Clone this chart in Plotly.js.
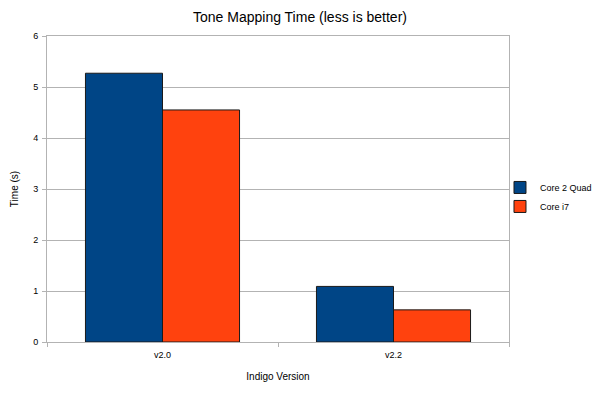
<!DOCTYPE html>
<html>
<head>
<meta charset="utf-8">
<script src="https://cdn.plot.ly/plotly-3.0.1.min.js"></script>
<style>html,body{margin:0;padding:0;background:#fff;}#chart{width:600px;height:397px;}</style>
</head>
<body>
<div id="chart"></div>
<script>
const versions = ["v2.0", "v2.2"];
const core2Quad = [5.27, 1.09];
const coreI7 = [4.55, 0.63];
const seriesNames = ["Core 2 Quad", "Core i7"];
const yTicks = [0, 1, 2, 3, 4, 5, 6];

const font = "Liberation Sans, Arial, sans-serif";
const traces = [
  {type: "bar", name: seriesNames[0], x: versions, y: core2Quad,
   marker: {color: "#004586", line: {color: "#1a1a1a", width: 1}}},
  {type: "bar", name: seriesNames[1], x: versions, y: coreI7,
   marker: {color: "#ff420e", line: {color: "#1a1a1a", width: 1}}}
];
const layout = {
  width: 600, height: 397,
  margin: {l: 47, r: 91, t: 36, b: 55, autoexpand: false},
  paper_bgcolor: "#fff", plot_bgcolor: "#fff",
  font: {family: font, color: "#000", size: 9},
  title: {text: "Tone Mapping Time (less is better)", font: {family: font, size: 14, color: "#000"},
          x: 0.5, xref: "container", y: 0.957, yref: "container", yanchor: "middle"},
  barmode: "group", bargap: 0.333, bargroupgap: 0,
  hovermode: false,
  xaxis: {
    title: {text: "Indigo Version", font: {family: font, size: 10}, standoff: 14},
    tickson: "boundaries", ticks: "outside", ticklen: 4, tickcolor: "#b3b3b3",
    ticklabelstandoff: 4,
    showline: true, linecolor: "#b3b3b3", linewidth: 1, mirror: true,
    showgrid: false, tickfont: {size: 9}, fixedrange: true
  },
  yaxis: {
    title: {text: "Time (s)", font: {family: font, size: 10}, standoff: 12},
    range: [0, 6], tickvals: yTicks, ticktext: yTicks.map(String),
    ticks: "outside", ticklen: 4, tickcolor: "#b3b3b3",
    ticklabelstandoff: 2,
    showline: true, linecolor: "#b3b3b3", linewidth: 1, mirror: true,
    showgrid: true, gridcolor: "#b3b3b3", gridwidth: 1, zeroline: false,
    tickfont: {size: 9}, fixedrange: true
  },
  legend: {x: 0.9805, xanchor: "left", y: 0.474, yanchor: "middle",
           font: {family: font, size: 9}, bgcolor: "rgba(0,0,0,0)",
           itemwidth: 30, tracegroupgap: 0}
};
Plotly.newPlot("chart", traces, layout, {displayModeBar: false, staticPlot: true});
</script>
</body>
</html>
